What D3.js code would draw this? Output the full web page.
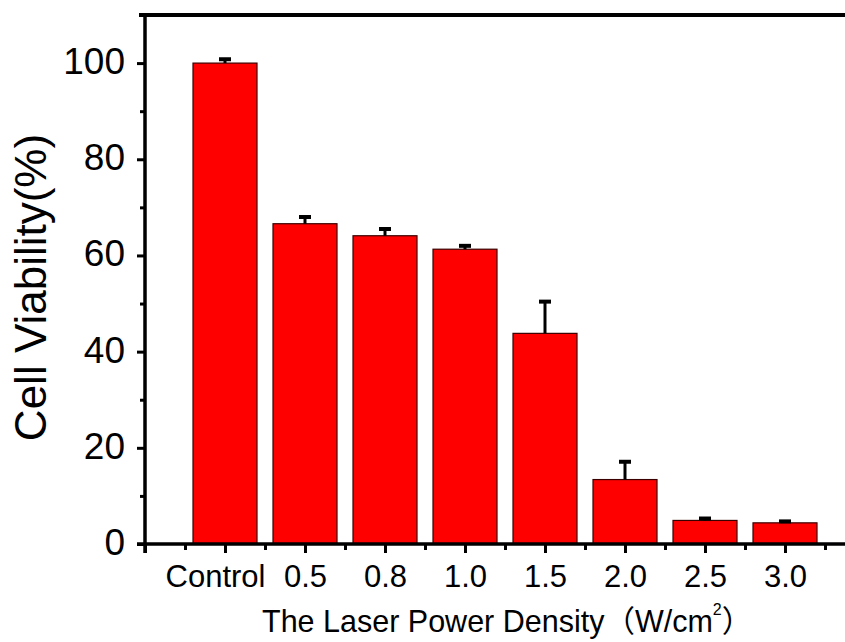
<!DOCTYPE html>
<html>
<head>
<meta charset="utf-8">
<script src="https://cdnjs.cloudflare.com/ajax/libs/d3/7.8.5/d3.min.js"></script>
<style>
	html, body { margin: 0; padding: 0; background: #fff; overflow: hidden; }
	svg { display: block; font-family: "Liberation Sans", Arial, "Noto Sans CJK SC", sans-serif; }
</style>
</head>
<body>
<svg id="chart" width="845" height="642"></svg>
<script>
// data
const categories = ['Control', '0.5', '0.8', '1.0', '1.5', '2.0', '2.5', '3.0'];
const viability = [100, 66.6, 64.1, 61.3, 43.8, 13.4, 4.9, 4.4];
const errors = [0.8, 1.4, 1.4, 0.7, 6.6, 3.7, 0.4, 0.3];
const yMajorTicks = [0, 20, 40, 60, 80, 100];
const yMinorTicks = [10, 30, 50, 70, 90];

const svg = d3.select('#chart');

const plotLeft = 145, plotBottom = 544, plotTop = 15;
const unit = 80;

const x = d3.scaleLinear().domain([0, categories.length + 1]).range([plotLeft, plotLeft + unit * (categories.length + 1)]);
const y = d3.scaleLinear().domain([0, 110]).range([plotBottom, plotTop]);
const barW = (x(1) - x(0)) * 0.8;

// bars
svg.append('g')
	.selectAll('rect')
	.data(viability)
	.join('rect')
	.attr('x', (d, i) => x(i + 1) - barW / 2)
	.attr('y', (d) => y(d))
	.attr('width', barW)
	.attr('height', (d) => y(0) - y(d))
	.style('fill', '#ff0000')
	.style('stroke', '#3a0000')
	.style('stroke-width', 1.2);

// error bars (upper half only, like the original)
const err = svg.append('g');
err.selectAll('line.stem')
	.data(viability)
	.join('line')
	.attr('class', 'stem')
	.attr('x1', (d, i) => x(i + 1))
	.attr('x2', (d, i) => x(i + 1))
	.attr('y1', (d) => y(d))
	.attr('y2', (d, i) => y(d + errors[i]))
	.style('stroke', '#000')
	.style('stroke-width', 3);
err.selectAll('line.cap')
	.data(viability)
	.join('line')
	.attr('class', 'cap')
	.attr('x1', (d, i) => x(i + 1) - 6)
	.attr('x2', (d, i) => x(i + 1) + 6)
	.attr('y1', (d, i) => y(d + errors[i]))
	.attr('y2', (d, i) => y(d + errors[i]))
	.style('stroke', '#000')
	.style('stroke-width', 4);

// y axis
const yAxis = svg.append('g').attr('transform', `translate(${plotLeft},0)`);
yAxis.call(d3.axisLeft(y).tickValues(yMajorTicks).tickSize(8).tickPadding(12).tickFormat(d3.format('d')));
const yMinor = svg.append('g').attr('transform', `translate(${plotLeft},0)`);
yMinor.call(d3.axisLeft(y).tickValues(yMinorTicks).tickSize(5).tickFormat(''));
yMinor.select('.domain').remove();

// x axis
const xMajor = d3.range(0, categories.length + 2);
const xMinor = d3.range(0.5, categories.length + 1, 1);
const xAxis = svg.append('g').attr('transform', `translate(0,${plotBottom})`);
xAxis.call(d3.axisBottom(x).tickValues(xMajor).tickSize(9).tickPadding(12)
	.tickFormat((d) => (d >= 1 && d <= categories.length ? categories[d - 1] : '')));
const xMinorG = svg.append('g').attr('transform', `translate(0,${plotBottom})`);
xMinorG.call(d3.axisBottom(x).tickValues(xMinor).tickSize(6).tickFormat(''));
xMinorG.select('.domain').remove();

svg.selectAll('.domain').style('stroke', '#000').style('stroke-width', 3.5);
svg.selectAll('.tick line').style('stroke', '#000').style('stroke-width', 3);
yAxis.selectAll('.tick text').style('font-size', '37px').style('fill', '#000').attr('dy', '0.28em');
xAxis.selectAll('.tick text').style('font-size', '31px').style('fill', '#000');
// the Control label sits a little left of its tick in the original
xAxis.selectAll('.tick text').filter((d) => d === 1).attr('dx', -10);
// straight domain lines without end caps
yAxis.select('.domain').attr('d', `M0,${plotTop}V${plotBottom + 9}`);
xAxis.select('.domain').attr('d', `M${plotLeft - 8},0H${x(categories.length + 1)}`);

// top frame line
svg.append('line')
	.attr('x1', plotLeft - 6)
	.attr('x2', x(categories.length + 1))
	.attr('y1', plotTop)
	.attr('y2', plotTop)
	.style('stroke', '#000')
	.style('stroke-width', 4);

// axis titles
svg.append('text')
	.attr('transform', `translate(46,${(plotTop + plotBottom) / 2 + 8}) rotate(-90)`)
	.attr('text-anchor', 'middle')
	.style('font-size', '44px')
	.text('Cell Viability(%)');

const xt = svg.append('text')
	.attr('x', 262)
	.attr('y', 632)
	.attr('text-anchor', 'start')
	.style('font-size', '30.5px');
xt.append('tspan').text('The Laser Power Density（W/cm');
xt.append('tspan').attr('dy', -17).style('font-size', '16px').text('2');
xt.append('tspan').attr('dy', 17).text('）');
</script>
</body>
</html>
